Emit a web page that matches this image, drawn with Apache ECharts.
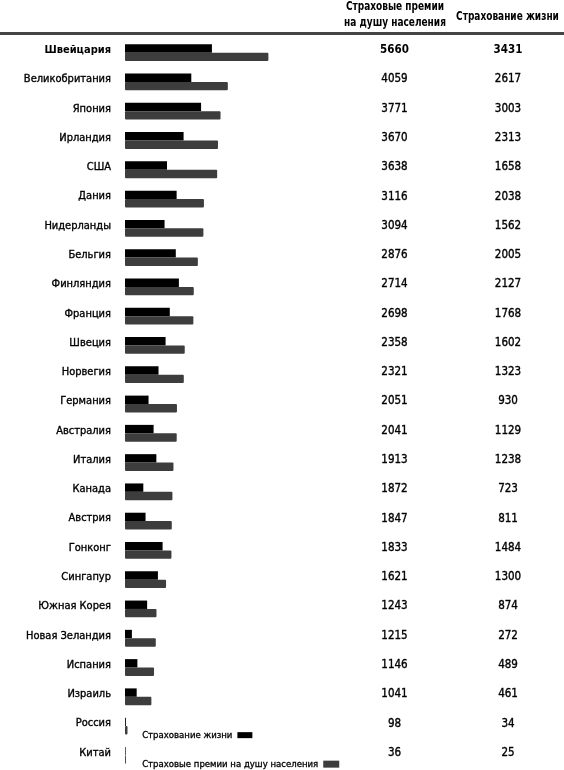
<!DOCTYPE html>
<html>
<head>
<meta charset="utf-8">
<script src="https://cdn.jsdelivr.net/npm/echarts@6/dist/echarts.min.js"></script>
<style>
html,body{margin:0;padding:0;background:#fff;}
#chart{width:564px;height:770px;}
</style>
</head>
<body>
<div id="chart"></div>
<script>
var countries = ['Швейцария','Великобритания','Япония','Ирландия','США','Дания','Нидерланды','Бельгия','Финляндия','Франция','Швеция','Норвегия','Германия','Австралия','Италия','Канада','Австрия','Гонконг','Сингапур','Южная Корея','Новая Зеландия','Испания','Израиль','Россия','Китай'];
var premiums = [5660,4059,3771,3670,3638,3116,3094,2876,2714,2698,2358,2321,2051,2041,1913,1872,1847,1833,1621,1243,1215,1146,1041,98,36];
var life = [3431,2617,3003,2313,1658,2038,1562,2005,2127,1768,1602,1323,930,1129,1238,723,811,1484,1300,874,272,489,461,34,25];
var seriesNames = ['Страхование жизни','Страховые премии на душу населения'];
var headerPremium = ['Страховые премии','на душу населения'];
var headerLife = 'Страхование жизни';

var FONT = "'Liberation Sans Narrow','Arial Narrow','DejaVu Sans Condensed',sans-serif";
var chart = echarts.init(document.getElementById('chart'), null, {renderer:'canvas'});

function richFmt(arr){
  return function(v, i){
    var t = arr ? arr[i] : v;
    return (i === 0 ? '{b|' : '{n|') + t + '}';
  };
}
function rich(size){
  return {
    b:{fontFamily:FONT,fontSize:size,fontWeight:'bold',color:'#000'},
    n:{fontFamily:FONT,fontSize:size,color:'#000',textBorderColor:'#000',textBorderWidth:0.35}
  };
}
function header(text, x, y){
  return {type:'text', x:x, y:y, scaleX:0.8,
    style:{x:0, y:0, text:text, font:'bold 12.5px '+FONT, fill:'#000', textAlign:'center', textVerticalAlign:'middle'}};
}

var option = {
  backgroundColor:'#fff',
  animation:false,
  textStyle:{fontFamily:FONT},
  grid:{left:125, top:38, width:152, height:737.5},
  xAxis:{type:'value', min:0, max:6000, show:false},
  yAxis:[
    {type:'category', data:countries, inverse:true,
     axisLine:{show:false}, axisTick:{show:false}, splitLine:{show:false},
     axisLabel:{margin:14, padding:[0,0,5,0], formatter:richFmt(null), rich:rich(11)}},
    {type:'category', data:countries, inverse:true, position:'right', offset:0,
     axisLine:{show:false}, axisTick:{show:false}, splitLine:{show:false},
     axisLabel:{margin:117.5, align:'center', padding:[0,0,5,0], formatter:richFmt(premiums), rich:rich(11.5)}},
    {type:'category', data:countries, inverse:true, position:'right', offset:0,
     axisLine:{show:false}, axisTick:{show:false}, splitLine:{show:false},
     axisLabel:{margin:231, align:'center', padding:[0,0,5,0], formatter:richFmt(life), rich:rich(11.5)}}
  ],
  legend:[
    {data:[seriesNames[0]], left:137, top:725, align:'right', icon:'rect', itemWidth:15, itemHeight:6,
     selectedMode:false, textStyle:{fontFamily:FONT,fontSize:9.5,color:'#000',textBorderColor:'#000',textBorderWidth:0.3}},
    {data:[seriesNames[1]], left:137, top:754, align:'right', icon:'rect', itemWidth:16, itemHeight:7,
     selectedMode:false, textStyle:{fontFamily:FONT,fontSize:9.5,color:'#000',textBorderColor:'#000',textBorderWidth:0.3}}
  ],
  series:[
    {name:seriesNames[0], type:'bar', yAxisIndex:0, data:life, barWidth:8.4, barGap:'0%',
     itemStyle:{color:'#000'}},
    {name:seriesNames[1], type:'bar', yAxisIndex:0, data:premiums, barWidth:8.4, barGap:'0%',
     itemStyle:{color:'#3d3d3d', borderRadius:1}}
  ],
  graphic:[
    {type:'rect', left:0, top:32, shape:{width:564, height:3}, style:{fill:'#444'}},
    header(headerPremium[0], 395, 7),
    header(headerPremium[1], 395, 23),
    header(headerLife, 507.5, 16.5)
  ]
};
chart.setOption(option);
</script>
</body>
</html>
